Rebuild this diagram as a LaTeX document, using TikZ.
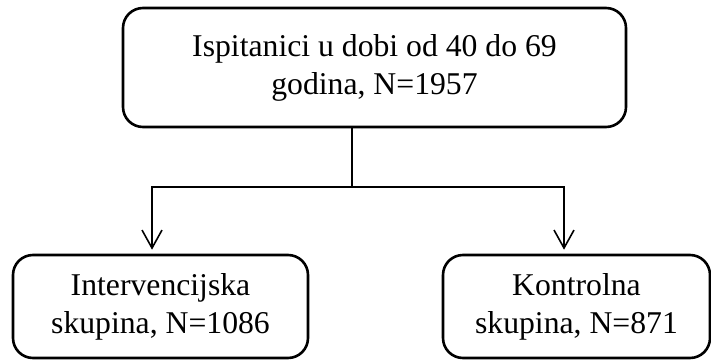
\documentclass[tikz,border=0pt]{standalone}
\usepackage{fontspec}
\setmainfont{Liberation Serif}
\usetikzlibrary{arrows.meta}
\begin{document}
\begin{tikzpicture}[x=1pt, y=1pt, node distance=239pt]
  % Define styles
  \tikzstyle{group} = [rectangle, rounded corners=20pt, minimum height=103pt, inner sep=0pt,
                       align=center, draw=black, line width=2.6pt,
                       font=\fontsize{31.7}{38}\selectfont]
  \tikzstyle{arrow} = [line width=1.6pt, -{Straight Barb[length=18pt, width=20pt, line width=1.6pt]}]
  \useasboundingbox (0,0) rectangle (711,-361);

  % Nodes
  \node (all) [group, minimum width=503pt, minimum height=119pt] at (374.5,-67.5)
        {Ispitanici u dobi od 40 do 69\\godina, N=1957};
  \node (interv) [group, minimum width=295pt, below of=all, xshift=-214pt]
        {Intervencijska\\skupina, N=1086};
  \node (control) [group, minimum width=267pt, below of=all, xshift=202pt]
        {Kontrolna\\skupina, N=871};
  \coordinate (split) at (352,-187);

  % Arrows
  \draw [line width=1.6pt] (all.south -| split) -- (split);
  \draw [arrow] (split) -| ([xshift=-8.5pt, yshift=4pt]interv.north);
  \draw [arrow] (split) -| ([xshift=-12.5pt, yshift=4pt]control.north);
\end{tikzpicture}
\end{document}
